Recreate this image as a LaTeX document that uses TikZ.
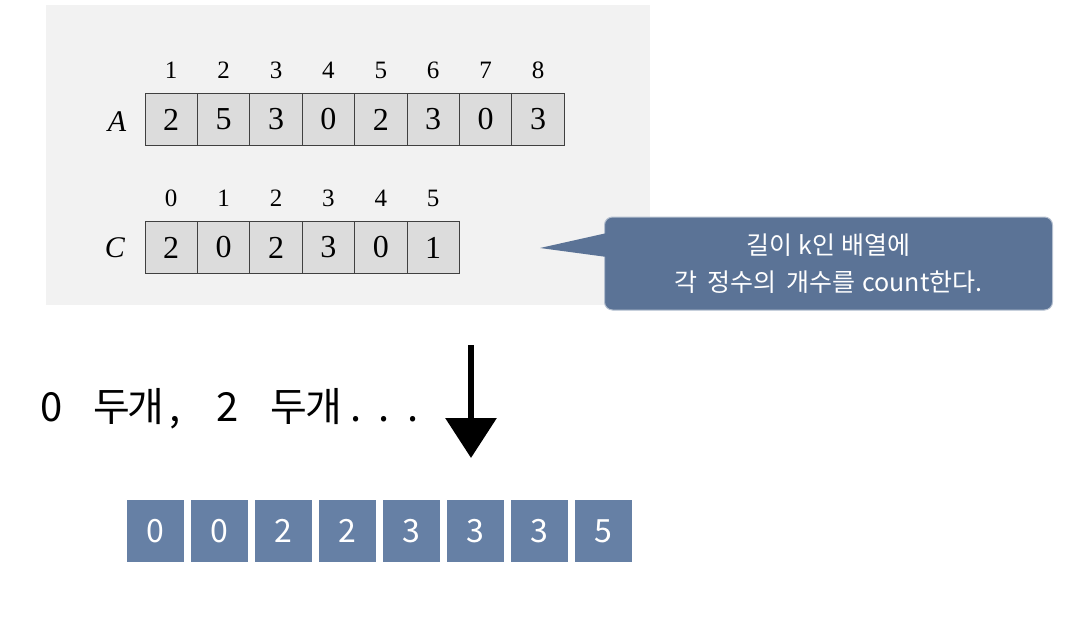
\documentclass[tikz,border=0pt]{standalone}
\usepackage{fontspec}
\setmainfont{Liberation Serif}
\newfontfamily\kr{Noto Sans CJK KR}
\usetikzlibrary{arrows.meta}
\definecolor{bubcol}{HTML}{5B7396}
\definecolor{cellcol}{HTML}{6680A5}
\definecolor{panelcol}{HTML}{F2F2F2}
\definecolor{graycell}{HTML}{DCDCDC}
\newcommand\gap[1]{\kern#1pt\relax}
\begin{document}
\begin{tikzpicture}[x=1pt,y=-1pt]
  \def\w{52.4}
  \tikzset{c/.style={draw=black!75,line width=0.8pt,fill=graycell,minimum width=\w pt,minimum height=52pt,inner sep=0,font=\fontsize{32}{32}\selectfont},
    idx/.style={inner sep=0,font=\fontsize{25}{25}\selectfont},
    s/.style={fill=cellcol,minimum width=57pt,minimum height=62pt,inner sep=0,text=white,font=\kr\fontsize{32}{32}\selectfont}}
  \useasboundingbox(0,0)rectangle(1081,627);
  \fill[panelcol](46,5)rectangle(650,305);
  % A va C
  \node[font=\fontsize{30}{30}\selectfont](A) at (117,122){\textit{A}};
  \node[font=\fontsize{30}{30}\selectfont](C) at (115,248){\textit{C}};
  \foreach \v [count=\i] in {2,5,3,0,2,3,0,3}{
    \node[c](A\i) at ({145+\w*(\i-0.5)},119.5){\v};
    \path(A\i)++(0,-49)node[idx](iA\i){\i};}
  \foreach \v [count=\i] in {2,0,2,3,0,1}{
    \node[c](C\i) at ({145+\w*(\i-0.5)},247.5){\v};
    \path(C\i)++(0,-49.5)node[idx](iC\i){\the\numexpr\i-1\relax};}
  % bong bong
  \coordinate(pt) at (540,248);
  \node[fill=bubcol,draw=bubcol!45!white,line width=1pt,rounded corners=8pt,minimum width=448pt,minimum height=93pt,text=white,align=center,font=\kr\fontsize{25}{37}\selectfont](B) at (828.5,263.5){길이\gap{6}k인\gap{6}배열에\\각\gap{10}정수의\gap{10}개수를\gap{7}count한다.};
  \fill[bubcol]([xshift=3pt,yshift=30.5pt]B.west)--(pt)--([xshift=3pt,yshift=6.5pt]B.west)--cycle;
  % chu va mui ten
  \node[anchor=base west,inner sep=0,font=\kr\fontsize{40}{40}\selectfont](T) at (40,421){0\gap{30.6}두\gap{-2}개\gap{5},\gap{36}2\gap{32}두\gap{-2}개\gap{8}.\gap{17.2}.\gap{17.2}.};
  \coordinate(q1) at (471,345);
  \coordinate(q2) at (471,458);
  \draw[line width=6.5pt,-{Triangle[width=50pt,length=40pt]}](q1)--(q2);
  % ket qua
  \foreach \v [count=\i] in {0,0,2,2,3,3,3,5}
    \node[s](R\i) at ({155.5+64*(\i-1)},531){\v};
\end{tikzpicture}
\end{document}
